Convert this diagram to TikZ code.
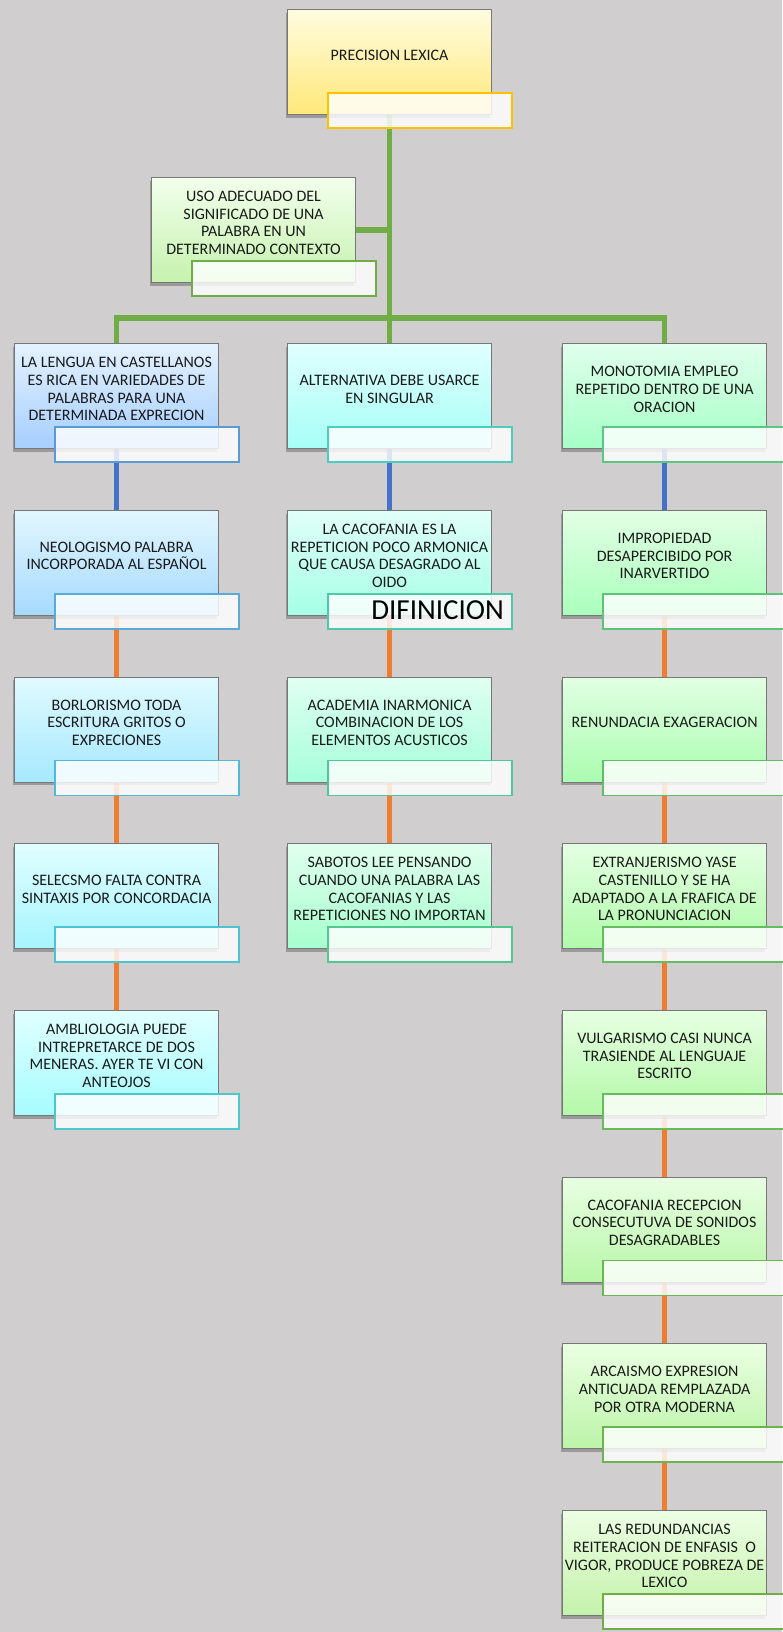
\documentclass[tikz,border=0pt]{standalone}
\usepackage{fontspec}
\setmainfont{Carlito}
\usetikzlibrary{shadows,backgrounds}
\definecolor{bgcol}{HTML}{D0CECE}
\definecolor{boxline}{HTML}{777777}
\definecolor{txtcol}{HTML}{1A1A1A}
\definecolor{cgreen}{HTML}{70AD47}
\definecolor{cblue}{HTML}{4472C4}
\definecolor{corange}{HTML}{ED7D31}
% gradients
\definecolor{Tt}{HTML}{FFFCE0}\definecolor{Tb}{HTML}{FFE87A}\definecolor{Tl}{HTML}{FFC000}
\definecolor{Ut}{HTML}{F2FFEC}\definecolor{Ub}{HTML}{C6F2AE}\definecolor{Ul}{HTML}{70AD47}
\definecolor{L1t}{HTML}{E4F2FF}\definecolor{L1b}{HTML}{A6CEFF}\definecolor{L1l}{HTML}{5B9BD5}
\definecolor{L2t}{HTML}{E2F6FF}\definecolor{L2b}{HTML}{A6DAFF}\definecolor{L2l}{HTML}{5AAAD8}
\definecolor{L3t}{HTML}{E0FAFF}\definecolor{L3b}{HTML}{A6E8FF}\definecolor{L3l}{HTML}{52B8DA}
\definecolor{L4t}{HTML}{E0FEFF}\definecolor{L4b}{HTML}{A6F4FF}\definecolor{L4l}{HTML}{4CC4D4}
\definecolor{L5t}{HTML}{E0FFFF}\definecolor{L5b}{HTML}{A6FCFF}\definecolor{L5l}{HTML}{4AC8CC}
\definecolor{M1t}{HTML}{E0FFFF}\definecolor{M1b}{HTML}{A6FFF6}\definecolor{M1l}{HTML}{4CCDBE}
\definecolor{M2t}{HTML}{E0FFF8}\definecolor{M2b}{HTML}{A6FFE6}\definecolor{M2l}{HTML}{4CC8AA}
\definecolor{M3t}{HTML}{E0FFF2}\definecolor{M3b}{HTML}{A6FFDA}\definecolor{M3l}{HTML}{4DC89C}
\definecolor{M4t}{HTML}{E0FFEE}\definecolor{M4b}{HTML}{A6FFCE}\definecolor{M4l}{HTML}{50C890}
\definecolor{R1t}{HTML}{E0FFEC}\definecolor{R1b}{HTML}{A6FFC6}\definecolor{R1l}{HTML}{5CC782}
\definecolor{R2t}{HTML}{E2FFE4}\definecolor{R2b}{HTML}{AAFFBC}\definecolor{R2l}{HTML}{5CC474}
\definecolor{R3t}{HTML}{E2FFE2}\definecolor{R3b}{HTML}{AAFCB0}\definecolor{R3l}{HTML}{5CC068}
\definecolor{R4t}{HTML}{E4FFE2}\definecolor{R4b}{HTML}{B0FAAA}\definecolor{R4l}{HTML}{62BE5E}
\definecolor{R5t}{HTML}{E6FFE2}\definecolor{R5b}{HTML}{B4F8A8}\definecolor{R5l}{HTML}{66BC56}
\definecolor{R6t}{HTML}{E8FFE2}\definecolor{R6b}{HTML}{B8F6A8}\definecolor{R6l}{HTML}{6AB850}
\definecolor{R7t}{HTML}{EAFFE2}\definecolor{R7b}{HTML}{BCF4A8}\definecolor{R7l}{HTML}{6EB44C}
\definecolor{R8t}{HTML}{ECFFE4}\definecolor{R8b}{HTML}{C4F2AA}\definecolor{R8l}{HTML}{70AD47}
\tikzset{
  cbox/.style={draw=boxline, line width=1.1pt, minimum width=204pt, minimum height=105pt,
    inner sep=0pt, anchor=north west,
    drop shadow={shadow xshift=-2pt, shadow yshift=-3pt, opacity=0.4, fill=black!70}},
  ctxt/.style={align=center, font=\fontsize{16}{17.7}\selectfont, text=txtcol, inner sep=0pt},
  clab/.style={fill=white, fill opacity=0.82, text opacity=1, line width=1.6pt,
    minimum width=184pt, minimum height=35pt, inner sep=0pt, anchor=north west},
  conn/.style={line width=5.5pt},
}
\newcommand\cbx[5]{%
  \node[cbox, top color=#4t, bottom color=#4b] (#1) at (#2,#3) {};
  \node[ctxt] (#1t) at ([yshift=-46pt]#1.north) {#5};
  \node[clab, draw=#4l] (#1l) at ([xshift=40pt,yshift=23pt]#1.south west) {};
}
\begin{document}
\begin{tikzpicture}[x=1pt,y=-1pt]
\useasboundingbox (0,0) rectangle (782,1632);
\begin{scope}[on background layer]
\fill[bgcol] (0,0) rectangle (782,1632);
\end{scope}
\cbx{top}{287}{9}{T}{PRECISION LEXICA}
\cbx{uso}{151}{177}{U}{USO ADECUADO DEL\\SIGNIFICADO DE UNA\\PALABRA EN UN\\DETERMINADO CONTEXTO}
% left column
\cbx{L1}{14}{343.3}{L1}{LA LENGUA EN CASTELLANOS\\ES RICA EN VARIEDADES DE\\PALABRAS PARA UNA\\DETERMINADA EXPRECION}
\cbx{L2}{14}{510}{L2}{NEOLOGISMO PALABRA\\INCORPORADA AL ESPAÑOL}
\cbx{L3}{14}{676.7}{L3}{BORLORISMO TODA\\ESCRITURA GRITOS O\\EXPRECIONES}
\cbx{L4}{14}{843.3}{L4}{SELECSMO FALTA CONTRA\\SINTAXIS POR CONCORDACIA}
\cbx{L5}{14}{1010}{L5}{AMBLIOLOGIA PUEDE\\INTREPRETARCE DE DOS\\MENERAS. AYER TE VI CON\\ANTEOJOS}
% middle column
\cbx{M1}{287}{343.3}{M1}{ALTERNATIVA DEBE USARCE\\EN SINGULAR}
\cbx{M2}{287}{510}{M2}{LA CACOFANIA ES LA\\REPETICION POCO ARMONICA\\QUE CAUSA DESAGRADO AL\\OIDO}
\cbx{M3}{287}{676.7}{M3}{ACADEMIA INARMONICA\\COMBINACION DE LOS\\ELEMENTOS ACUSTICOS}
\cbx{M4}{287}{843.3}{M4}{SABOTOS LEE PENSANDO\\CUANDO UNA PALABRA LAS\\CACOFANIAS Y LAS\\REPETICIONES NO IMPORTAN}
% right column
\cbx{R1}{562}{343.3}{R1}{MONOTOMIA EMPLEO\\REPETIDO DENTRO DE UNA\\ORACION}
\cbx{R2}{562}{510}{R2}{IMPROPIEDAD\\DESAPERCIBIDO POR\\INARVERTIDO}
\cbx{R3}{562}{676.7}{R3}{RENUNDACIA EXAGERACION}
\cbx{R4}{562}{843.3}{R4}{EXTRANJERISMO YASE\\CASTENILLO Y SE HA\\ADAPTADO A LA FRAFICA DE\\LA PRONUNCIACION}
\cbx{R5}{562}{1010}{R5}{VULGARISMO CASI NUNCA\\TRASIENDE AL LENGUAJE\\ESCRITO}
\cbx{R6}{562}{1176.7}{R6}{CACOFANIA RECEPCION\\CONSECUTUVA DE SONIDOS\\DESAGRADABLES}
\cbx{R7}{562}{1343.3}{R7}{ARCAISMO EXPRESION\\ANTICUADA REMPLAZADA\\POR OTRA MODERNA}
\cbx{R8}{562}{1510}{R8}{LAS REDUNDANCIAS\\REITERACION DE ENFASIS~ O\\VIGOR, PRODUCE POBREZA DE\\LEXICO}
\node[font=\fontsize{29}{30}\selectfont, text=black, inner sep=0pt, anchor=base east] (dif) at (504,619.5) {DIFINICION};
% connectors
\coordinate (j) at (top.south |- 0,318);
\coordinate (jl) at (L1.north |- j);
\coordinate (jr) at (R1.north |- j);
\begin{scope}[on background layer]
\draw[conn, cgreen] (top.south) -- (j);
\draw[conn, cgreen] (uso.east) -- (uso.east -| j);
\draw[conn, cgreen, line join=miter] (L1.north) -- (jl) -- (jr) -- (R1.north);
\draw[conn, cgreen] (j) -- (M1.north);
\draw[conn, cblue] (L1.south) -- (L2.north);
\draw[conn, cblue] (M1.south) -- (M2.north);
\draw[conn, cblue] (R1.south) -- (R2.north);
\draw[conn, corange] (L2.south) -- (L3.north);
\draw[conn, corange] (L3.south) -- (L4.north);
\draw[conn, corange] (L4.south) -- (L5.north);
\draw[conn, corange] (M2.south) -- (M3.north);
\draw[conn, corange] (M3.south) -- (M4.north);
\draw[conn, corange] (R2.south) -- (R3.north);
\draw[conn, corange] (R3.south) -- (R4.north);
\draw[conn, corange] (R4.south) -- (R5.north);
\draw[conn, corange] (R5.south) -- (R6.north);
\draw[conn, corange] (R6.south) -- (R7.north);
\draw[conn, corange] (R7.south) -- (R8.north);
\end{scope}
\end{tikzpicture}
\end{document}
